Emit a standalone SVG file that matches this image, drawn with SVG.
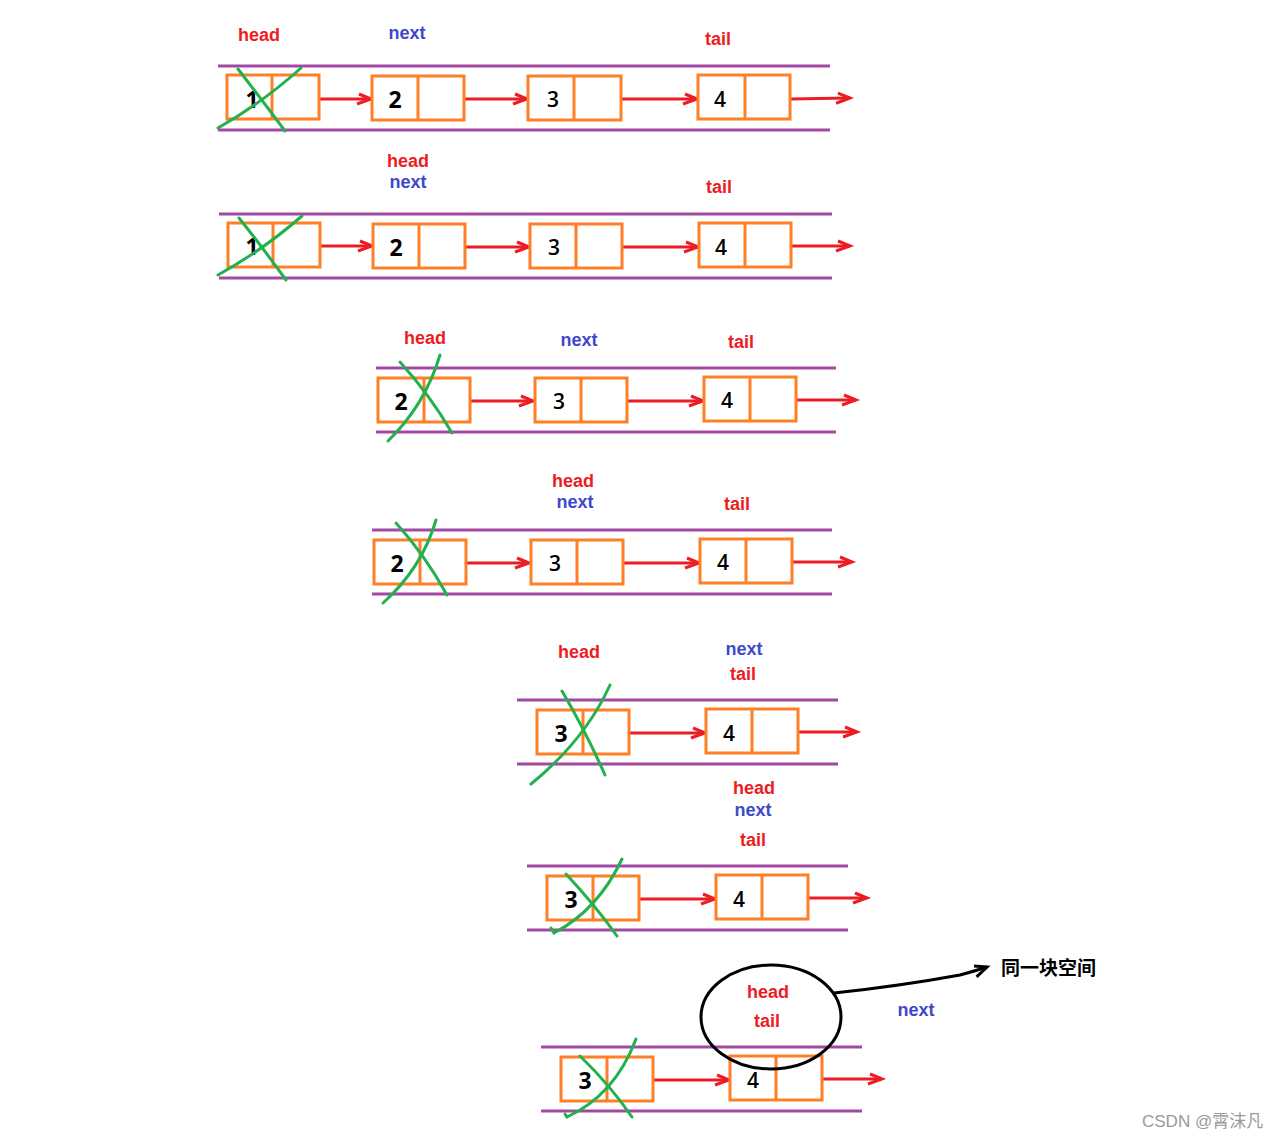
<svg xmlns="http://www.w3.org/2000/svg" width="1288" height="1140" viewBox="0 0 1288 1140">
<defs>
<style>
.lane{stroke:#a349a4;stroke-width:3;fill:none}
.box{fill:#fff;stroke:#ff7f27;stroke-width:3}
.div{stroke:#ff7f27;stroke-width:3}
.num{font-family:"Open Sans","Noto Sans",sans-serif;font-weight:600;font-size:21px;fill:#000;text-anchor:middle;dominant-baseline:central}
.big{font-size:23px;font-weight:700}
.lbl{font-family:"Liberation Sans",Arial,sans-serif;font-weight:700;font-size:18px;text-anchor:middle;dominant-baseline:central}
.red{fill:#ed1c24}
.blue{fill:#3f48cc}
.arr{stroke:#ed1c24;stroke-width:3;fill:none;marker-end:url(#ah)}
.x{stroke:#22b14c;stroke-width:3;fill:none;stroke-linecap:round}
</style>
<marker id="ah" markerUnits="userSpaceOnUse" markerWidth="20" markerHeight="16" viewBox="-16 -8 20 16" refX="0" refY="0" orient="auto" overflow="visible">
<path d="M-12,-5 L0,0 L-14,5" fill="none" stroke="#ed1c24" stroke-width="3"/>
</marker>
<marker id="bh" markerUnits="userSpaceOnUse" markerWidth="20" markerHeight="16" viewBox="-16 -8 20 16" refX="0" refY="0" orient="auto" overflow="visible">
<path d="M-12,-5 L0,0 L-13,6" fill="none" stroke="#000" stroke-width="3"/>
</marker>
</defs>
<rect width="1288" height="1140" fill="#fff"/>

<g id="lanes">
<line class="lane" x1="218" y1="66" x2="830" y2="66"/><line class="lane" x1="218" y1="130" x2="830" y2="130"/>
<line class="lane" x1="219" y1="214" x2="832" y2="214"/><line class="lane" x1="219" y1="278" x2="832" y2="278"/>
<line class="lane" x1="376" y1="368" x2="836" y2="368"/><line class="lane" x1="376" y1="432" x2="836" y2="432"/>
<line class="lane" x1="372" y1="530" x2="832" y2="530"/><line class="lane" x1="372" y1="594" x2="832" y2="594"/>
<line class="lane" x1="517" y1="700" x2="838" y2="700"/><line class="lane" x1="517" y1="764" x2="838" y2="764"/>
<line class="lane" x1="527" y1="866" x2="848" y2="866"/><line class="lane" x1="527" y1="930" x2="848" y2="930"/>
<line class="lane" x1="541" y1="1047" x2="862" y2="1047"/><line class="lane" x1="541" y1="1111" x2="862" y2="1111"/>
</g>

<g id="connectors">
<line class="arr" x1="307" y1="99" x2="371" y2="99"/>
<line class="arr" x1="464" y1="99" x2="527" y2="99"/>
<line class="arr" x1="621" y1="99" x2="697" y2="99"/>
<line class="arr" x1="790" y1="99" x2="850" y2="98"/>
<line class="arr" x1="308" y1="246" x2="372" y2="246"/>
<line class="arr" x1="465" y1="247" x2="529" y2="247"/>
<line class="arr" x1="622" y1="247" x2="698" y2="247"/>
<line class="arr" x1="791" y1="246" x2="850" y2="246"/>
<line class="arr" x1="470" y1="401" x2="533" y2="401"/>
<line class="arr" x1="628" y1="401" x2="703" y2="401"/>
<line class="arr" x1="796" y1="400" x2="856" y2="400"/>
<line class="arr" x1="466" y1="563" x2="529" y2="563"/>
<line class="arr" x1="623" y1="563" x2="699" y2="563"/>
<line class="arr" x1="792" y1="562" x2="852" y2="562"/>
<line class="arr" x1="629" y1="733" x2="705" y2="733"/>
<line class="arr" x1="798" y1="732" x2="857" y2="732"/>
<line class="arr" x1="639" y1="899" x2="715" y2="899"/>
<line class="arr" x1="808" y1="898" x2="867" y2="898"/>
<line class="arr" x1="653" y1="1080" x2="729" y2="1080"/>
<line class="arr" x1="822" y1="1079" x2="882" y2="1079"/>
<path d="M834,993 Q900,986 960,975 Q975,971 987,967" fill="none" stroke="#000" stroke-width="3" marker-end="url(#bh)"/>
</g>

<!-- Row 1 -->
<g id="r1n1"><rect class="box" x="227" y="75" width="92" height="44"/><line class="div" x1="272" y1="75" x2="272" y2="119"/><text class="num big" x="252" y="99">1</text></g>
<g id="r1n2"><rect class="box" x="372" y="76" width="92" height="44"/><line class="div" x1="418" y1="76" x2="418" y2="120"/><text class="num big" x="395" y="99">2</text></g>
<g id="r1n3"><rect class="box" x="528" y="76" width="93" height="44"/><line class="div" x1="574" y1="76" x2="574" y2="120"/><text class="num" x="553" y="99">3</text></g>
<g id="r1n4"><rect class="box" x="698" y="75" width="92" height="44"/><line class="div" x1="745" y1="75" x2="745" y2="119"/><text class="num" x="720" y="99">4</text></g>
<g id="r1x"><path class="x" d="M218,128 Q262,103 301,68"/><path class="x" d="M238,69 Q262,100 285,131"/></g>
<g id="r1labels"><text class="lbl red" x="259" y="35">head</text><text class="lbl blue" x="407" y="33">next</text><text class="lbl red" x="718" y="39">tail</text></g>

<!-- Row 2 -->
<g id="r2n1"><rect class="box" x="228" y="223" width="92" height="44"/><line class="div" x1="273" y1="223" x2="273" y2="267"/><text class="num big" x="252" y="246">1</text></g>
<g id="r2n2"><rect class="box" x="373" y="224" width="92" height="44"/><line class="div" x1="419" y1="224" x2="419" y2="268"/><text class="num big" x="396" y="247">2</text></g>
<g id="r2n3"><rect class="box" x="530" y="224" width="92" height="44"/><line class="div" x1="576" y1="224" x2="576" y2="268"/><text class="num" x="554" y="247">3</text></g>
<g id="r2n4"><rect class="box" x="699" y="223" width="92" height="44"/><line class="div" x1="745" y1="223" x2="745" y2="267"/><text class="num" x="721" y="247">4</text></g>
<g id="r2x"><path class="x" d="M218,275 Q263,250 302,216"/><path class="x" d="M239,218 Q263,248 286,280"/></g>
<g id="r2labels"><text class="lbl red" x="408" y="161">head</text><text class="lbl blue" x="408" y="182">next</text><text class="lbl red" x="719" y="187">tail</text></g>

<!-- Row 3 -->
<g id="r3n2"><rect class="box" x="378" y="378" width="92" height="44"/><line class="div" x1="424" y1="378" x2="424" y2="422"/><text class="num big" x="401" y="401">2</text></g>
<g id="r3n3"><rect class="box" x="535" y="378" width="92" height="44"/><line class="div" x1="581" y1="378" x2="581" y2="422"/><text class="num" x="559" y="401">3</text></g>
<g id="r3n4"><rect class="box" x="704" y="377" width="92" height="44"/><line class="div" x1="750" y1="377" x2="750" y2="421"/><text class="num" x="727" y="400">4</text></g>
<g id="r3x"><path class="x" d="M388,441 Q425,405 440,355"/><path class="x" d="M400,362 Q430,395 452,433"/></g>
<g id="r3labels"><text class="lbl red" x="425" y="338">head</text><text class="lbl blue" x="579" y="340">next</text><text class="lbl red" x="741" y="342">tail</text></g>

<!-- Row 4 -->
<g id="r4n2"><rect class="box" x="374" y="540" width="92" height="44"/><line class="div" x1="420" y1="540" x2="420" y2="584"/><text class="num big" x="397" y="563">2</text></g>
<g id="r4n3"><rect class="box" x="531" y="540" width="92" height="44"/><line class="div" x1="577" y1="540" x2="577" y2="584"/><text class="num" x="555" y="563">3</text></g>
<g id="r4n4"><rect class="box" x="700" y="539" width="92" height="44"/><line class="div" x1="746" y1="539" x2="746" y2="583"/><text class="num" x="723" y="562">4</text></g>
<g id="r4x"><path class="x" d="M383,603 Q422,568 436,520"/><path class="x" d="M396,523 Q425,555 447,595"/></g>
<g id="r4labels"><text class="lbl red" x="573" y="481">head</text><text class="lbl blue" x="575" y="502">next</text><text class="lbl red" x="737" y="504">tail</text></g>

<!-- Row 5 -->
<g id="r5n3"><rect class="box" x="537" y="710" width="92" height="44"/><line class="div" x1="583" y1="710" x2="583" y2="754"/><text class="num big" x="561" y="733">3</text></g>
<g id="r5n4"><rect class="box" x="706" y="709" width="92" height="44"/><line class="div" x1="752" y1="709" x2="752" y2="753"/><text class="num" x="729" y="733">4</text></g>
<g id="r5x"><path class="x" d="M531,784 Q585,740 610,685"/><path class="x" d="M562,691 Q585,730 605,775"/></g>
<g id="r5labels"><text class="lbl red" x="579" y="652">head</text><text class="lbl blue" x="744" y="649">next</text><text class="lbl red" x="743" y="674">tail</text></g>

<!-- Row 6 -->
<g id="r6n3"><rect class="box" x="547" y="876" width="92" height="44"/><line class="div" x1="593" y1="876" x2="593" y2="920"/><text class="num big" x="571" y="899">3</text></g>
<g id="r6n4"><rect class="box" x="716" y="875" width="92" height="44"/><line class="div" x1="762" y1="875" x2="762" y2="919"/><text class="num" x="739" y="899">4</text></g>
<g id="r6x"><path class="x" d="M551,928 L554,933 Q598,910 622,859"/><path class="x" d="M566,874 Q595,905 617,936"/></g>
<g id="r6labels"><text class="lbl red" x="754" y="788">head</text><text class="lbl blue" x="753" y="810">next</text><text class="lbl red" x="753" y="840">tail</text></g>

<!-- Row 7 -->
<g id="r7n3"><rect class="box" x="561" y="1057" width="92" height="44"/><line class="div" x1="607" y1="1057" x2="607" y2="1101"/><text class="num big" x="585" y="1080">3</text></g>
<g id="r7n4"><rect class="box" x="730" y="1056" width="92" height="44"/><line class="div" x1="776" y1="1056" x2="776" y2="1100"/><text class="num" x="753" y="1080">4</text></g>
<g id="r7x"><path class="x" d="M565,1114 L567,1117 Q615,1095 636,1039"/><path class="x" d="M580,1056 Q610,1085 632,1117"/></g>
<g id="same-space"><ellipse cx="771" cy="1017" rx="70" ry="52" fill="none" stroke="#000" stroke-width="3"/></g>
<g id="r7labels"><text class="lbl red" x="768" y="992">head</text><text class="lbl red" x="767" y="1021">tail</text><text class="lbl blue" x="916" y="1010">next</text></g>
<text x="1001" y="966" font-family="'Noto Sans CJK SC',sans-serif" font-weight="700" font-size="19" fill="#000" dominant-baseline="central">同一块空间</text>

<text x="1142" y="1121" font-family="'Liberation Sans','Noto Sans CJK SC',sans-serif" font-size="17" fill="#9a9a9a" dominant-baseline="central">CSDN @霄沫凡</text>
</svg>
